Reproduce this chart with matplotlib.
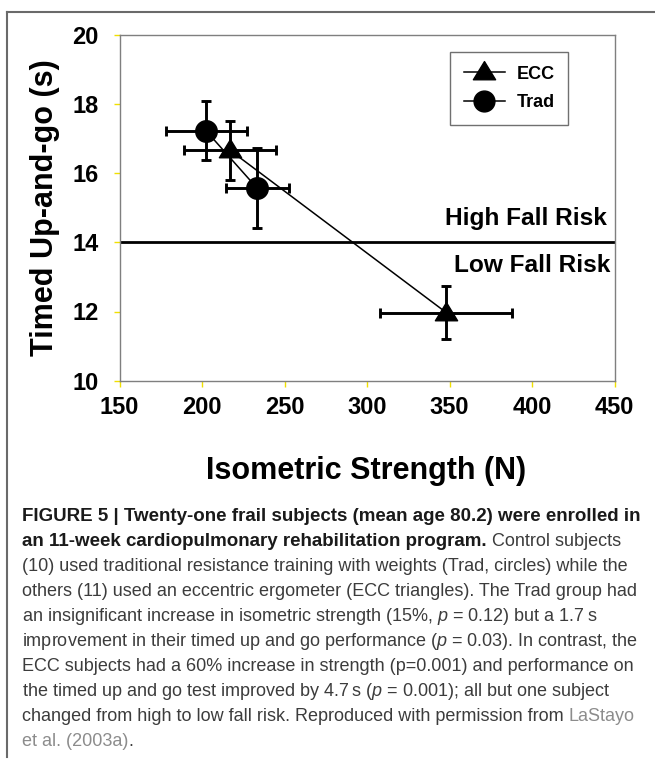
import numpy as np
import matplotlib
matplotlib.use("Agg")
import matplotlib.pyplot as plt
from matplotlib.lines import Line2D
from matplotlib.path import Path

# data
trad_x = [202.5, 233.5]
trad_y = [17.22, 15.56]
trad_xerr = [24.5, 19.0]
trad_yerr = [0.85, 1.16]

ecc_x = [217.0, 348.0]
ecc_y = [16.66, 11.97]
ecc_xerr = [28.0, 40.0]
ecc_yerr = [0.85, 0.76]

fall_risk_cut = 14
x_ticks = [150, 200, 250, 300, 350, 400, 450]
y_ticks = [10, 12, 14, 16, 18, 20]

caption = [
    [("FIGURE 5 | Twenty-one frail subjects (mean age 80.2) were enrolled in", "b")],
    [("an 11-week cardiopulmonary rehabilitation program.", "b"), (" Control subjects", "r")],
    [("(10) used traditional resistance training with weights (Trad, circles) while the", "r")],
    [("others (11) used an eccentric ergometer (ECC triangles). The Trad group had", "r")],
    [("an insignificant increase in isometric strength (15%, $p$ = 0.12) but a 1.7\u2009s", "r")],
    [("improvement in their timed up and go performance ($p$ = 0.03). In contrast, the", "r")],
    [("ECC subjects had a 60% increase in strength (p=0.001) and performance on", "r")],
    [("the timed up and go test improved by 4.7\u2009s ($p$ = 0.001); all but one subject", "r")],
    [("changed from high to low fall risk. Reproduced with permission from ", "r"), ("LaStayo", "l")],
    [("et al. (2003a)", "l"), (".", "r")],
]

plt.rcParams['font.family'] = ['Liberation Sans', 'DejaVu Sans']
plt.rcParams['mathtext.fontset'] = 'custom'
plt.rcParams['mathtext.rm'] = 'Liberation Sans'
plt.rcParams['mathtext.it'] = 'Liberation Sans:italic'
plt.rcParams['mathtext.bf'] = 'Liberation Sans:bold'

W, H = 655, 759
fig = plt.figure(figsize=(W / 100, H / 100), dpi=100)
ax = fig.add_axes([119.5 / W, 1 - 380.7 / H, 495 / W, 346 / H])

# triangle with its centre low, like the original
tri = Path([(0, 10.8), (-11, -7.2), (11, -7.2), (0, 10.8)],
           [Path.MOVETO, Path.LINETO, Path.LINETO, Path.CLOSEPOLY])

ax.axhline(fall_risk_cut, color='black', lw=2.0, zorder=1)

ax.errorbar(ecc_x, ecc_y, xerr=ecc_xerr, yerr=ecc_yerr, color='black',
            lw=1.1, marker=tri, ms=16, elinewidth=2.1, capsize=3.6, capthick=2.1, zorder=3)
ax.errorbar(trad_x, trad_y, xerr=trad_xerr, yerr=trad_yerr, color='black',
            lw=1.1, marker='o', ms=15.5, elinewidth=2.1, capsize=3.6, capthick=2.1, zorder=3)

ax.text(445.5, 14.5, "High Fall Risk", ha='right', va='baseline', fontsize=17.6, fontweight='bold')
ax.text(447.5, 13.15, "Low Fall Risk", ha='right', va='baseline', fontsize=17.6, fontweight='bold')

ax.set_xlim(150, 450)
ax.set_ylim(10, 20)
ax.set_xticks(x_ticks)
ax.set_yticks(y_ticks)
for sp in ax.spines.values():
    sp.set_color('#7f7f7f')
    sp.set_linewidth(1.0)
ax.tick_params(direction='out', length=4, width=1, color='#f0e000', labelsize=17)
ax.tick_params(axis='y', pad=11)
ax.tick_params(axis='x', pad=7)
for lab in ax.get_xticklabels() + ax.get_yticklabels():
    lab.set_fontweight('bold')

fig.text(366 / W, 1 - 471 / H, "Isometric Strength (N)", ha='center', va='center',
         fontsize=22, fontweight='bold')
fig.text(45 / W, 1 - 207.7 / H, "Timed Up-and-go (s)", ha='center', va='center',
         rotation=90, fontsize=22, fontweight='bold')

handles = [
    Line2D([], [], color='black', lw=1.1, marker=tri, ms=16),
    Line2D([], [], color='black', lw=1.1, marker='o', ms=15),
]
leg = ax.legend(handles, ["ECC", "Trad"], loc='upper right',
                bbox_to_anchor=((568 - 119.5) / 495, (380.7 - 52) / 346),
                borderaxespad=0, fancybox=False, framealpha=1, edgecolor='#707070',
                prop={'weight': 'bold', 'size': 13}, handlelength=2.25,
                handletextpad=0.65, labelspacing=0.65, borderpad=0.75)
leg.get_frame().set_linewidth(1.0)

# outer frame of the figure panel
fig.add_artist(Line2D([7 / W, 7 / W], [1 - 12 / H, 1 - 757 / H], transform=fig.transFigure,
                      color='#6a6a6a', lw=1.5))
fig.add_artist(Line2D([7 / W, 1.0], [1 - 12 / H, 1 - 12 / H], transform=fig.transFigure,
                      color='#6a6a6a', lw=1.5))

# caption, piece by piece so bold / link parts can sit inline
styles = {
    "b": dict(color='#1a1a1a', fontweight='bold', fontsize=13.5),
    "r": dict(color='#3c3c3c', fontsize=13),
    "l": dict(color='#8c8c8c', fontsize=13),
}
renderer = fig.canvas.get_renderer()
for i, pieces in enumerate(caption):
    x = 22.0
    yb = 521 + 25 * i
    for s, st in pieces:
        t = fig.text(x / W, 1 - yb / H, s, ha='left', va='baseline', **styles[st])
        bb = t.get_window_extent(renderer)
        x = bb.x1

fig.savefig("out.png", dpi=100)
